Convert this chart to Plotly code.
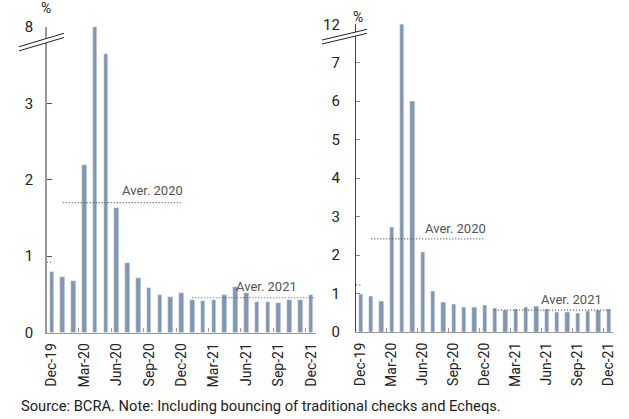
import plotly.graph_objects as go

W, H = 629, 419

months = ["Dec-19", "Jan-20", "Feb-20", "Mar-20", "Apr-20", "May-20", "Jun-20", "Jul-20",
          "Aug-20", "Sep-20", "Oct-20", "Nov-20", "Dec-20", "Jan-21", "Feb-21", "Mar-21",
          "Apr-21", "May-21", "Jun-21", "Jul-21", "Aug-21", "Sep-21", "Oct-21", "Nov-21", "Dec-21"]

left_values = [0.79, 0.73, 0.68, 2.19, 8.0, 6.25, 1.63, 0.91, 0.72, 0.58, 0.485, 0.47, 0.52,
               0.43, 0.41, 0.42, 0.49, 0.60, 0.52, 0.40, 0.40, 0.38, 0.42, 0.43, 0.49]
right_values = [0.98, 0.93, 0.81, 2.73, 12.0, 6.0, 2.06, 1.07, 0.78, 0.72, 0.65, 0.64, 0.69,
                0.62, 0.57, 0.58, 0.63, 0.66, 0.58, 0.51, 0.50, 0.49, 0.54, 0.56, 0.59]

left_avg = {"2019": 0.92, "2020": 1.70, "2021": 0.455}
right_avg = {"2019": 1.22, "2020": 2.42, "2021": 0.57}

left_ticktext = ["0", "1", "2", "3", "8"]
right_ticktext = ["0", "1", "2", "3", "4", "5", "6", "7", "12"]

# broken axis: values above the break are compressed (5 units -> 1 unit)
def brk(v, b):
    return v if v <= b else b + (v - b) / 5.0

x = list(range(len(months)))
tick_idx = x[::3]
tick_lab = months[::3]

BAR = "#8497B0"
FONT = "Roboto"
TXT = "#222222"
DOT = "#555555"

fig = go.Figure()

def add_panel(vals, avg, b, xa, ya):
    fig.add_trace(go.Bar(x=x, y=[brk(v, b) for v in vals], marker_color=BAR, width=0.42,
                         xaxis=xa, yaxis=ya, showlegend=False))
    i20 = months.index("Jan-20"); j20 = months.index("Dec-20")
    i21 = months.index("Jan-21"); j21 = months.index("Dec-21")
    segs = [([-0.45, 0], avg["2019"]), ([i20, j20], avg["2020"]), ([i21, j21 + 0.3], avg["2021"])]
    for xs, yv in segs:
        fig.add_trace(go.Scatter(x=xs, y=[brk(yv, b)] * 2, mode="lines",
                                 line=dict(color=DOT, width=1.2, dash="1px,2px"),
                                 xaxis=xa, yaxis=ya, showlegend=False, cliponaxis=False))

add_panel(left_values, left_avg, 3, "x", "y")
add_panel(right_values, right_avg, 7, "x2", "y2")

def px_x(p):
    return p / W

def px_y(p):
    return 1 - p / H

xcommon = dict(tickmode="array", tickvals=tick_idx, ticktext=tick_lab, tickangle=-90,
               ticks="", showgrid=False, zeroline=False, showline=True, linecolor="#999999",
               linewidth=1.2, tickfont=dict(family=FONT, size=14, color=TXT),
               ticklabelstandoff=4, automargin=False,
               minor=dict(tickmode="array", tickvals=[t - 0.5 for t in tick_idx[1:]],
                          ticks="inside", ticklen=4, tickcolor="#999999", tickwidth=1))

fig.update_layout(
    width=W, height=H, margin=dict(l=0, r=0, t=0, b=0, autoexpand=False),
    plot_bgcolor="white", paper_bgcolor="white", bargap=0,
    font=dict(family=FONT, color=TXT),
    xaxis=dict(domain=[px_x(47), px_x(316)], range=[-0.45, 24.45], anchor="y", **xcommon),
    xaxis2=dict(domain=[px_x(356), px_x(613)], range=[-0.48, 24.42], anchor="y2", **xcommon),
    yaxis=dict(domain=[px_y(332.5), px_y(27)], range=[0, 4], anchor="x",
               tickmode="array", tickvals=[0, 1, 2, 3, 4], ticktext=left_ticktext,
               ticks="inside", ticklen=5, tickcolor="#555555", showgrid=False, zeroline=False,
               showline=True, linecolor="#999999", linewidth=1.5, ticklabelstandoff=9,
               automargin=False, tickfont=dict(family=FONT, size=15, color=TXT)),
    yaxis2=dict(domain=[px_y(332), px_y(24.3)], range=[0, 8], anchor="x2",
                tickmode="array", tickvals=list(range(9)), ticktext=right_ticktext,
                ticks="inside", ticklen=4, tickcolor="#888888", showgrid=False, zeroline=False,
                showline=True, linecolor="#444444", linewidth=1.2, ticklabelstandoff=12,
                automargin=False, tickfont=dict(family=FONT, size=15, color=TXT)),
)

ann = []
AV = dict(family=FONT, size=13, color="#555555")
ann.append(dict(x=9.3, y=brk(1.86, 3), xref="x", yref="y", text="Aver. 2020", showarrow=False,
                font=AV, xanchor="center", yanchor="middle"))
ann.append(dict(x=19.9, y=0.60, xref="x", yref="y", text="Aver. 2021", showarrow=False,
                font=AV, xanchor="center", yanchor="middle"))
ann.append(dict(x=9.2, y=2.70, xref="x2", yref="y2", text="Aver. 2020", showarrow=False,
                font=AV, xanchor="center", yanchor="middle"))
ann.append(dict(x=20.4, y=0.85, xref="x2", yref="y2", text="Aver. 2021", showarrow=False,
                font=AV, xanchor="center", yanchor="middle"))
ann.append(dict(x=px_x(46), y=px_y(8), xref="paper", yref="paper", text="%", showarrow=False,
                font=dict(family=FONT, size=14, color=TXT), xanchor="center", yanchor="middle"))
ann.append(dict(x=px_x(358), y=px_y(17), xref="paper", yref="paper", text="%", showarrow=False,
                font=dict(family=FONT, size=14, color=TXT), xanchor="center", yanchor="middle"))
ann.append(dict(x=px_x(19), y=px_y(406), xref="paper", yref="paper",
                text="Source: BCRA. Note: Including bouncing of traditional checks and Echeqs.",
                showarrow=False, font=dict(family=FONT, size=14.7, color=TXT),
                xanchor="left", yanchor="middle"))
fig.update_layout(annotations=ann)

# axis break marks
shapes = []
for (x0, y0a, x1, y1a, gap) in [(19, 46.7, 64, 33.3, 4.2), (322, 40, 367, 29.3, 4.0)]:
    path = "M {} {} L {} {} L {} {} L {} {} Z".format(
        px_x(x0), px_y(y0a), px_x(x1), px_y(y1a), px_x(x1), px_y(y1a + gap), px_x(x0), px_y(y0a + gap))
    shapes.append(dict(type="path", path=path, xref="paper", yref="paper",
                       fillcolor="white", line=dict(width=0), layer="above"))
    for off in (0, gap):
        shapes.append(dict(type="line", xref="paper", yref="paper",
                           x0=px_x(x0), y0=px_y(y0a + off), x1=px_x(x1), y1=px_y(y1a + off),
                           line=dict(color="#222222", width=1), layer="above"))
fig.update_layout(shapes=shapes)

fig.write_html("out.html", config={"displayModeBar": False},
               post_script="document.body.style.margin='0px';document.body.style.overflow='hidden';")
